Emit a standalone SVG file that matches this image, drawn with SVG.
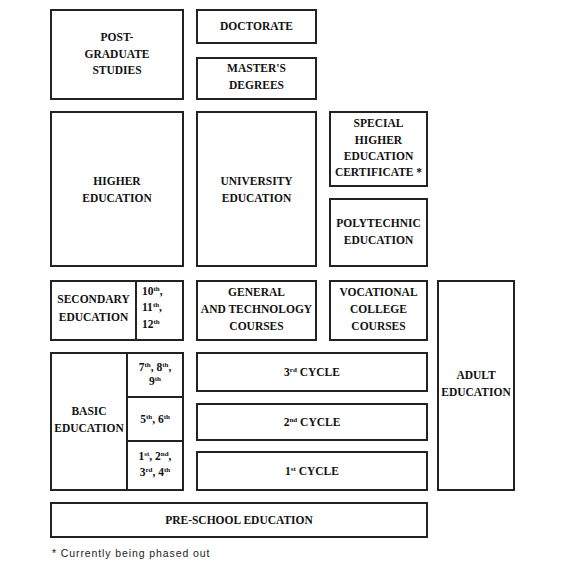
<svg xmlns="http://www.w3.org/2000/svg" width="567" height="567" viewBox="0 0 567 567">
<style>
.b{fill:#fff;stroke:#222;stroke-width:2}
.d{stroke:#222;stroke-width:2;fill:none}
.t text{font-size:11.5px;font-weight:bold;fill:#111;text-anchor:middle}
.t .s{font-size:7px}
.t .l{text-anchor:start}
.f{font-size:10.5px;fill:#222;letter-spacing:0.9px}
</style>
<rect width="567" height="567" fill="#fff"/>
<g class="t" font-family="'Liberation Serif', 'DejaVu Serif', serif">
<g id="postgrad"><rect class="b" x="51" y="10" width="132" height="89"/><text x="117" y="41">POST-</text><text x="117" y="57.5">GRADUATE</text><text x="117" y="74">STUDIES</text></g>
<g id="doctorate"><rect class="b" x="197" y="10" width="119" height="33"/><text x="256.5" y="30">DOCTORATE</text></g>
<g id="masters"><rect class="b" x="197" y="58" width="119" height="41"/><text x="256.5" y="72">MASTER'S</text><text x="256.5" y="89">DEGREES</text></g>
<g id="higher"><rect class="b" x="51" y="112" width="132" height="154"/><text x="117" y="185">HIGHER</text><text x="117" y="202">EDUCATION</text></g>
<g id="university"><rect class="b" x="197" y="112" width="119" height="154"/><text x="256.5" y="185">UNIVERSITY</text><text x="256.5" y="202">EDUCATION</text></g>
<g id="special"><rect class="b" x="330" y="112" width="97" height="74"/><text x="378.5" y="127">SPECIAL</text><text x="378.5" y="143.5">HIGHER</text><text x="378.5" y="160">EDUCATION</text><text x="378.5" y="176">CERTIFICATE *</text></g>
<g id="polytechnic"><rect class="b" x="330" y="199" width="97" height="67"/><text x="378.5" y="227">POLYTECHNIC</text><text x="378.5" y="244">EDUCATION</text></g>
<g id="secondary"><rect class="b" x="51" y="281" width="132" height="59"/><line class="d" x1="136" y1="281" x2="136" y2="340"/><text x="93.5" y="303">SECONDARY</text><text x="93.5" y="321">EDUCATION</text>
<text class="l" x="142" y="295">10<tspan class="s" dy="-4">th</tspan><tspan dy="4">,</tspan></text>
<text class="l" x="142" y="311">11<tspan class="s" dy="-4">th</tspan><tspan dy="4">,</tspan></text>
<text class="l" x="142" y="328">12<tspan class="s" dy="-4">th</tspan></text></g>
<g id="general"><rect class="b" x="197" y="281" width="119" height="59"/><text x="256.5" y="296">GENERAL</text><text x="256.5" y="313">AND TECHNOLOGY</text><text x="256.5" y="330">COURSES</text></g>
<g id="vocational"><rect class="b" x="330" y="281" width="97" height="59"/><text x="378.5" y="296">VOCATIONAL</text><text x="378.5" y="313">COLLEGE</text><text x="378.5" y="330">COURSES</text></g>
<g id="adult"><rect class="b" x="438" y="281" width="76" height="209"/><text x="476" y="379">ADULT</text><text x="476" y="396">EDUCATION</text></g>
<g id="basic"><rect class="b" x="51" y="353" width="132" height="137"/><line class="d" x1="127" y1="353" x2="127" y2="490"/><line class="d" x1="127" y1="397" x2="183" y2="397"/><line class="d" x1="127" y1="441" x2="183" y2="441"/>
<text x="89" y="415">BASIC</text><text x="89" y="432">EDUCATION</text>
<text x="155" y="371">7<tspan class="s" dy="-4">th</tspan><tspan dy="4">, 8</tspan><tspan class="s" dy="-4">th</tspan><tspan dy="4">,</tspan></text>
<text x="155" y="385">9<tspan class="s" dy="-4">th</tspan></text>
<text x="155" y="423">5<tspan class="s" dy="-4">th</tspan><tspan dy="4">, 6</tspan><tspan class="s" dy="-4">th</tspan></text>
<text x="155" y="460">1<tspan class="s" dy="-4">st</tspan><tspan dy="4">, 2</tspan><tspan class="s" dy="-4">nd</tspan><tspan dy="4">,</tspan></text>
<text x="155" y="476">3<tspan class="s" dy="-4">rd</tspan><tspan dy="4">, 4</tspan><tspan class="s" dy="-4">th</tspan></text></g>
<g id="cycle3"><rect class="b" x="197" y="353" width="230" height="38"/><text x="312" y="376">3<tspan class="s" dy="-4">rd</tspan><tspan dy="4"> CYCLE</tspan></text></g>
<g id="cycle2"><rect class="b" x="197" y="404" width="230" height="36"/><text x="312" y="426">2<tspan class="s" dy="-4">nd</tspan><tspan dy="4"> CYCLE</tspan></text></g>
<g id="cycle1"><rect class="b" x="197" y="452" width="230" height="38"/><text x="312" y="475">1<tspan class="s" dy="-4">st</tspan><tspan dy="4"> CYCLE</tspan></text></g>
<g id="preschool"><rect class="b" x="51" y="503" width="376" height="34"/><text x="239" y="524">PRE-SCHOOL EDUCATION</text></g>
</g>
<g id="connectors"></g>
<text class="f" x="52" y="557" font-family="'Liberation Sans', Arial, sans-serif">*  Currently being phased out</text>
</svg>
